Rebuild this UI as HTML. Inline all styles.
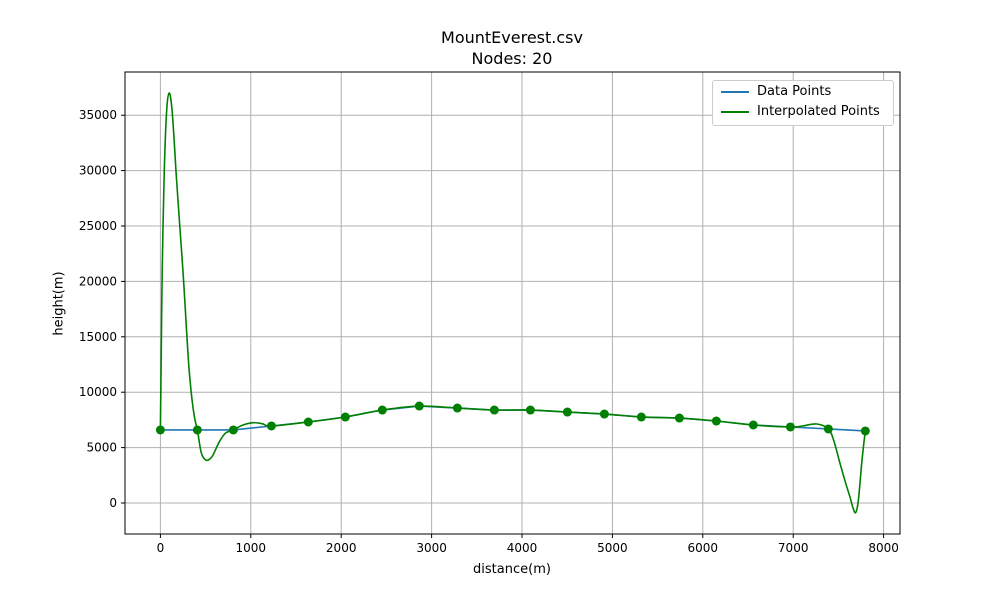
<!DOCTYPE html>
<html><head><meta charset="utf-8"><style>
body{margin:0;background:#fff;font-family:"Liberation Sans","DejaVu Sans",sans-serif}
svg text{font-family:"DejaVu Sans","Liberation Sans",sans-serif}
</style></head><body>
<svg id="chart" width="1000" height="600" xmlns="http://www.w3.org/2000/svg"></svg>
<script>
const nodeX=[0,409,807,1228,1636,2046,2455,2864,3285,3694,4093,4502,4911,5320,5741,6150,6559,6969,7389,7798];
const nodeY=[6590,6590,6590,6950,7310,7760,8390,8750,8570,8390,8390,8210,8030,7760,7670,7400,7040,6860,6680,6500];
const interpX=[0,10,20,43,70,97,125,150,172,210,253,290,316,350,380,409,450,490,530,580,650,720,807,900,1025,1130,1228,1636,2046,2455,2864,3285,3694,4093,4502,4911,5320,5741,6150,6559,6969,7100,7260,7389,7450,7517,7580,7627,7660,7691,7720,7758,7780,7798];
const interpY=[6590,14000,21000,30000,35500,37000,35800,33000,30000,25500,20500,15500,12200,9300,7600,6590,4600,3950,3880,4300,5500,6300,6590,7000,7250,7150,6950,7310,7760,8390,8750,8570,8390,8390,8210,8030,7760,7670,7400,7040,6860,6950,7130,6680,5600,3600,1800,570,-400,-870,200,3600,5300,6520];
const xTicks=[0,1000,2000,3000,4000,5000,6000,7000,8000];
const yTicks=[0,5000,10000,15000,20000,25000,30000,35000];
const L=125,R=900,T=72,B=534;
const sx=v=>160.4+v*0.0904, sy=v=>503-v*0.01108;
const NS="http://www.w3.org/2000/svg", svg=document.getElementById('chart');
function mk(tag,attrs,parent){const e=document.createElementNS(NS,tag);for(const k in attrs)e.setAttribute(k,attrs[k]);(parent||svg).appendChild(e);return e;}
const grid=mk('g',{});


xTicks.forEach(t=>{const x=sx(t);
 const g=mk('line',{x1:x,x2:x,y1:T,y2:B,stroke:'#b0b0b0','stroke-width':1},grid);
 
 
 mk('line',{x1:x,x2:x,y1:B,y2:B+4,stroke:'#000'});
 const tx=mk('text',{x:x,y:B+18,'text-anchor':'middle','font-size':12});tx.textContent=t;
 
 
});
yTicks.forEach(t=>{const y=sy(t);
 const g=mk('line',{x1:L,x2:R,y1:y,y2:y,stroke:'#b0b0b0','stroke-width':1},grid);
 
 
 mk('line',{x1:L-4,x2:L,y1:y,y2:y,stroke:'#000'});
 const tx=mk('text',{x:L-8,y:y+4,'text-anchor':'end','font-size':12});tx.textContent=t;
 
 
});
const dp=mk('polyline',{points:nodeX.map((x,i)=>sx(x)+','+sy(nodeY[i])).join(' '),fill:'none',stroke:'#1f77b4','stroke-width':1.6});


const P=interpX.map((x,i)=>[sx(x),sy(interpY[i])]);
let d='M'+P[0][0]+','+P[0][1];
for(let i=0;i<P.length-1;i++){
 const p0=P[Math.max(0,i-1)],p1=P[i],p2=P[i+1],p3=P[Math.min(P.length-1,i+2)];
 const c1=[p1[0]+(p2[0]-p0[0])/6,p1[1]+(p2[1]-p0[1])/6];
 const c2=[p2[0]-(p3[0]-p1[0])/6,p2[1]-(p3[1]-p1[1])/6];
 d+=' C'+c1[0]+','+c1[1]+' '+c2[0]+','+c2[1]+' '+p2[0]+','+p2[1];
}
const ip=mk('path',{d:d,fill:'none',stroke:'#008000','stroke-width':1.6,'stroke-linejoin':'round'});


nodeX.forEach((x,i)=>{const c=mk('circle',{cx:sx(x),cy:sy(nodeY[i]),r:4.5,fill:'#008000'});
 
 });
const fr=mk('rect',{x:L,y:T,width:R-L,height:B-T,fill:'none',stroke:'#000','stroke-width':1});


</script>
<div style="position:absolute;left:312px;top:27px;width:400px;text-align:center;font-family:'DejaVu Sans',sans-serif;font-size:16px;line-height:21px">MountEverest.csv<br>Nodes: 20</div>
<div style="position:absolute;left:412px;top:562px;width:200px;text-align:center;font-family:'DejaVu Sans',sans-serif;font-size:13px">distance(m)</div>
<div style="position:absolute;left:9px;top:296px;width:100px;text-align:center;transform:rotate(-90deg);font-family:'DejaVu Sans',sans-serif;font-size:13px">height(m)</div>
<div style="position:absolute;left:712px;top:80px;width:180px;height:44px;border:1px solid #ccc;border-radius:3px;background:#fff;font-family:'DejaVu Sans',sans-serif;font-size:13px">
 <div style="position:absolute;left:8px;top:3px;white-space:nowrap"><span style="display:inline-block;width:28px;height:2px;background:#1f77b4;vertical-align:middle;margin-right:8px"></span>Data Points</div>
 <div style="position:absolute;left:8px;top:23px;white-space:nowrap"><span style="display:inline-block;width:28px;height:2px;background:#008000;vertical-align:middle;margin-right:8px"></span>Interpolated Points</div>
</div>
</body></html>
